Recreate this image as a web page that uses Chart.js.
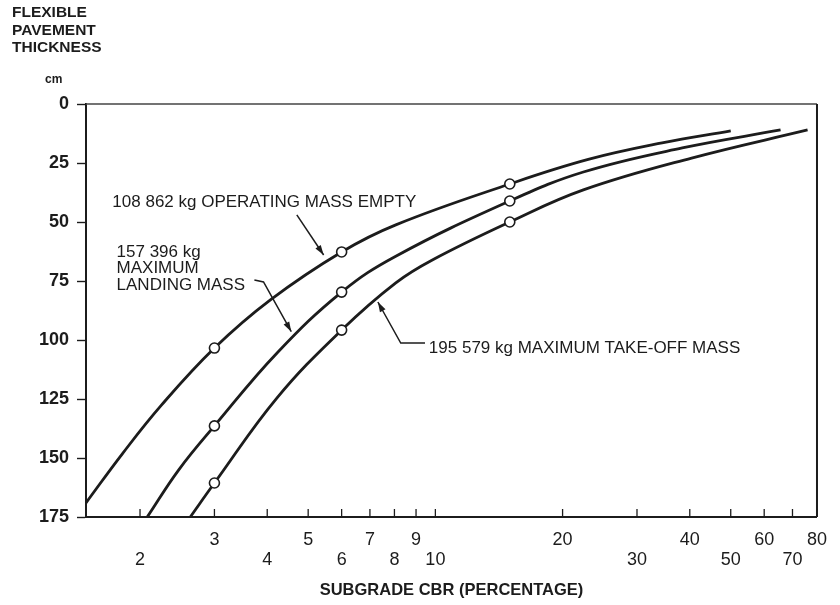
<!DOCTYPE html>
<html>
<head>
<meta charset="utf-8">
<script src="https://cdn.jsdelivr.net/npm/chart.js@4/dist/chart.umd.min.js"></script>
<style>
  html, body { margin: 0; padding: 0; background: #fff; }
</style>
</head>
<body>
<canvas id="grafica_cbr" width="840" height="605"></canvas>
<script>
// subgrade CBR (%) vs flexible pavement thickness (cm)
const omeCbr  = [1.49, 1.82, 2.25, 3, 4.07, 6, 8.06, 15, 23, 34.4, 50];
const omeThk  = [169, 148, 127.5, 103.4, 83, 62.7, 51.2, 33.9, 23.5, 16.5, 11.4];
const mlmCbr  = [2.08, 2.47, 3, 4.22, 6, 8.06, 15, 22.4, 38.4, 65.6];
const mlmThk  = [175, 155, 136.4, 105.5, 79.7, 64.5, 41.1, 28.8, 18.6, 11];
const mtomCbr = [2.63, 3, 4.22, 6, 8.06, 9.86, 15, 22.4, 40.4, 76];
const mtomThk = [175, 160.6, 124.5, 95.8, 75.8, 66, 50, 36.4, 22.9, 11];
const markerCbr = [3, 6, 15];

const cbrTicks = [2, 3, 4, 5, 6, 7, 8, 9, 10, 20, 30, 40, 50, 60, 70, 80];
const cbrUpperRow = [3, 5, 7, 9, 20, 40, 60, 80];
const thkTicks = [0, 25, 50, 75, 100, 125, 150, 175];

const heading = ["FLEXIBLE", "PAVEMENT", "THICKNESS"];
const labelOme = ["108 862 kg OPERATING MASS EMPTY"];
const labelMlm = ["157 396 kg", "MAXIMUM", "LANDING MASS"];
const labelMtom = ["195 579 kg MAXIMUM TAKE-OFF MASS"];

const FONT = "'Liberation Sans', Arial, sans-serif";
const INK = "#1c1c1c";

function puntos(xs, ys) {
  return xs.map((x, i) => ({ x: x, y: ys[i] }));
}

function curva(xs, ys) {
  return {
    data: puntos(xs, ys),
    borderColor: INK,
    borderWidth: 2.8,
    tension: 0.4,
    pointRadius: ctx => markerCbr.includes(ctx.raw.x) ? 5 : 0,
    pointBackgroundColor: "#fff",
    pointBorderColor: INK,
    pointBorderWidth: 1.6,
    clip: 2
  };
}

// annotations: text anchor and leader line in data units (cbr, cm)
const notas = [
  { lines: labelOme, at: [1.72, 41.5], step: 0,
    leader: [[4.70, 47.0], [5.44, 64.0]] },
  { lines: labelMlm, at: [1.76, 62.7], step: 7.0,
    leader: [[3.73, 74.6], [3.92, 75.4], [4.56, 96.5]] },
  { lines: labelMtom, at: [9.65, 103.4], step: 0,
    leader: [[9.45, 101.3], [8.28, 101.3], [7.31, 83.9]] }
];

function flecha(ctx, pts) {
  ctx.beginPath();
  ctx.moveTo(pts[0][0], pts[0][1]);
  for (let i = 1; i < pts.length; i++) ctx.lineTo(pts[i][0], pts[i][1]);
  ctx.stroke();
  const a = pts[pts.length - 2], b = pts[pts.length - 1];
  const ang = Math.atan2(b[1] - a[1], b[0] - a[0]);
  const len = 10, w = 3.2;
  ctx.beginPath();
  ctx.moveTo(b[0], b[1]);
  ctx.lineTo(b[0] - len * Math.cos(ang) + w * Math.sin(ang), b[1] - len * Math.sin(ang) - w * Math.cos(ang));
  ctx.lineTo(b[0] - len * Math.cos(ang) - w * Math.sin(ang), b[1] - len * Math.sin(ang) + w * Math.cos(ang));
  ctx.closePath();
  ctx.fill();
}

const extras = {
  id: "extras",
  beforeDraw(chart) {
    const c = chart.ctx;
    c.save();
    c.fillStyle = "#fff";
    c.fillRect(0, 0, chart.width, chart.height);
    c.restore();
  },
  afterDraw(chart) {
    const c = chart.ctx;
    const xs = chart.scales.x, ys = chart.scales.y;
    const area = chart.chartArea;
    c.save();

    // frame top and right
    c.strokeStyle = "#444";
    c.lineWidth = 1.4;
    c.beginPath();
    c.moveTo(area.left, area.top);
    c.lineTo(area.right, area.top);
    c.stroke();
    c.strokeStyle = INK;
    c.lineWidth = 2;
    c.beginPath();
    c.moveTo(area.right, area.top);
    c.lineTo(area.right, area.bottom);
    c.stroke();

    // x tick marks pointing into the plot
    c.lineWidth = 1.3;
    cbrTicks.forEach(v => {
      const px = xs.getPixelForValue(v);
      c.beginPath();
      c.moveTo(px, area.bottom);
      c.lineTo(px, area.bottom - 8);
      c.stroke();
    });

    // heading
    c.fillStyle = INK;
    c.textBaseline = "middle";
    c.textAlign = "left";
    c.font = "bold 15.5px " + FONT;
    heading.forEach((t, i) => c.fillText(t, 12, 13 + i * 17.5));
    c.font = "bold 12px " + FONT;
    c.fillText("cm", 45, 80);

    // labels and leaders
    c.font = "17px " + FONT;
    c.strokeStyle = INK;
    c.lineWidth = 1.5;
    notas.forEach(n => {
      const x0 = xs.getPixelForValue(n.at[0]);
      n.lines.forEach((t, i) => {
        c.fillText(t, x0, ys.getPixelForValue(n.at[1] + i * n.step));
      });
      flecha(c, n.leader.map(p => [xs.getPixelForValue(p[0]), ys.getPixelForValue(p[1])]));
    });
    c.restore();
  }
};

new Chart("grafica_cbr", {
  type: "line",
  data: {
    datasets: [curva(omeCbr, omeThk), curva(mlmCbr, mlmThk), curva(mtomCbr, mtomThk)]
  },
  options: {
    responsive: false,
    animation: false,
    layout: { padding: { top: 104, right: 14, left: 0, bottom: 0 } },
    plugins: { legend: { display: false }, tooltip: { enabled: false } },
    scales: {
      x: {
        type: "logarithmic",
        min: 1.49,
        max: 80,
        afterBuildTicks: scale => { scale.ticks = cbrTicks.map(v => ({ value: v })); },
        afterFit: scale => { scale.height = 88; },
        ticks: {
          autoSkip: false,
          maxRotation: 0,
          minRotation: 0,
          padding: 13,
          color: INK,
          font: { family: FONT, size: 18, lineHeight: 1.1 },
          callback: v => cbrUpperRow.includes(v) ? [String(v), ""] : ["", String(v)]
        },
        grid: { drawOnChartArea: false, drawTicks: false },
        border: { display: true, color: INK, width: 2 },
        title: {
          display: true,
          text: "SUBGRADE CBR (PERCENTAGE)",
          color: INK,
          font: { family: FONT, size: 16.5, weight: "bold" },
          padding: { top: 0, bottom: 5 }
        }
      },
      y: {
        reverse: true,
        min: 0,
        max: 175,
        afterBuildTicks: scale => { scale.ticks = thkTicks.map(v => ({ value: v })); },
        afterFit: scale => { scale.width = 86; },
        ticks: {
          padding: 8,
          color: INK,
          font: { family: FONT, size: 18, weight: "bold" }
        },
        grid: { drawOnChartArea: false, drawTicks: true, tickLength: 9, color: INK, tickWidth: 1.4 },
        border: { display: true, color: INK, width: 2 }
      }
    }
  },
  plugins: [extras]
});
</script>
</body>
</html>
